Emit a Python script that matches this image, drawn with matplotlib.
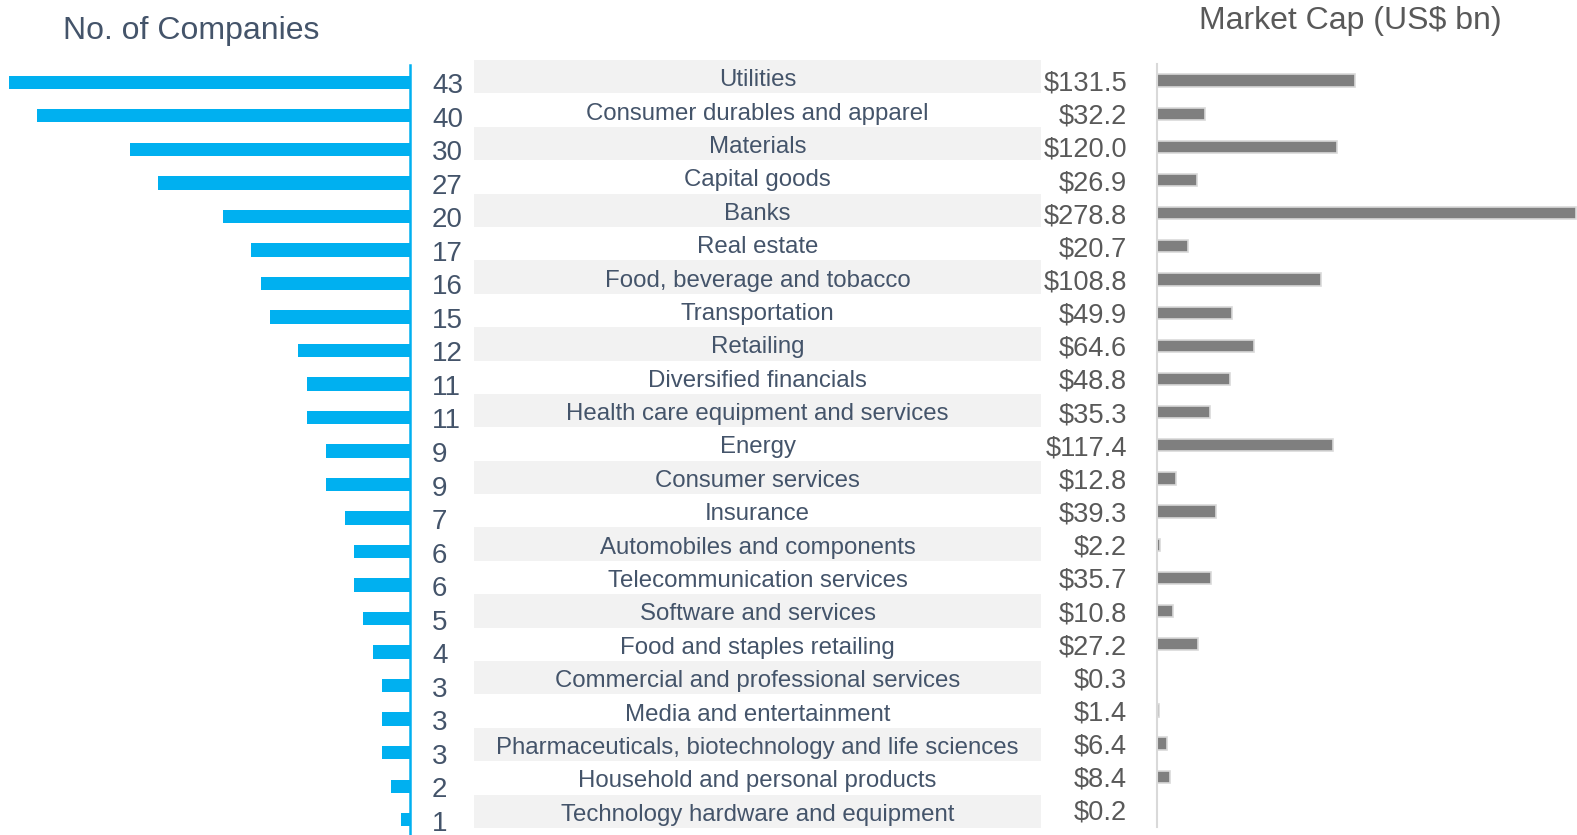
import matplotlib
matplotlib.use("Agg")
import matplotlib.pyplot as plt

plt.rcParams['font.family'] = ['Liberation Sans', 'DejaVu Sans']

# data
sectors = ["Utilities", "Consumer durables and apparel", "Materials", "Capital goods",
           "Banks", "Real estate", "Food, beverage and tobacco", "Transportation",
           "Retailing", "Diversified financials", "Health care equipment and services",
           "Energy", "Consumer services", "Insurance", "Automobiles and components",
           "Telecommunication services", "Software and services",
           "Food and staples retailing", "Commercial and professional services",
           "Media and entertainment",
           "Pharmaceuticals, biotechnology and life sciences",
           "Household and personal products", "Technology hardware and equipment"]
num_companies = [43, 40, 30, 27, 20, 17, 16, 15, 12, 11, 11, 9, 9, 7, 6, 6, 5, 4, 3, 3, 3, 2, 1]
market_cap = [131.5, 32.2, 120.0, 26.9, 278.8, 20.7, 108.8, 49.9, 64.6, 48.8, 35.3,
              117.4, 12.8, 39.3, 2.2, 35.7, 10.8, 27.2, 0.3, 1.4, 6.4, 8.4, 0.2]

W, H = 1577, 835
blue = "#00B0F0"
slate = "#44546A"
grey_txt = "#595959"

fig = plt.figure(figsize=(W / 100, H / 100), dpi=100)

def box(x0, y0, x1, y1):
    return [x0 / W, 1 - y1 / H, (x1 - x0) / W, (y1 - y0) / H]

n = len(sectors)
ypos = list(range(n))

# left: number of companies
axl = fig.add_axes(box(0, 65.5, 410, 836.5))
axl.barh(ypos, num_companies, height=0.4, color=blue)
axl.set_xlim(43.95, 0)
axl.set_ylim(n - 0.5, -0.5)
for s in ["top", "left", "bottom"]:
    axl.spines[s].set_visible(False)
axl.spines["right"].set_color(blue)
axl.spines["right"].set_linewidth(1.8)
axl.set_xticks([])
axl.set_yticks([])
for i, v in enumerate(num_companies):
    axl.annotate(str(v), (0, i), xytext=(22, -1), textcoords="offset pixels",
                 ha="left", va="center_baseline", fontsize=20, color=slate)

# middle: sector names on alternating bands
axm = fig.add_axes(box(474, 60, 1041, 828))
axm.set_xlim(0, 1)
axm.set_ylim(n - 0.5, -0.5)
axm.axis("off")
for i, name in enumerate(sectors):
    if i % 2 == 0:
        axm.axhspan(i - 0.5, i + 0.5, color="#F2F2F2", lw=0)
    axm.annotate(name, (0.5, i), xytext=(0, -1), textcoords="offset pixels",
                 ha="center", va="center_baseline", fontsize=17.3, color=slate)

# right: market cap
axr = fig.add_axes(box(1157, 64, 1577, 826.5))
axr.barh(ypos, market_cap, height=0.37, color="#7F7F7F", edgecolor="#D9D9D9", linewidth=1.2)
axr.set_xlim(0, 279.4)
axr.set_ylim(n - 0.5, -0.5)
for s in ["top", "right", "bottom"]:
    axr.spines[s].set_visible(False)
axr.spines["left"].set_color("#D9D9D9")
axr.spines["left"].set_linewidth(1.5)
axr.set_xticks([])
axr.set_yticks([])
for i, v in enumerate(market_cap):
    axr.text(-30 / 420, i, f"${v:.1f}", transform=axr.get_yaxis_transform(),
             ha="right", va="center_baseline", fontsize=19.6, color=grey_txt)

fig.text(63 / W, 1 - 31 / H, "No. of Companies", ha="left", va="center",
         fontsize=23, color=slate)
fig.text(1199 / W, 1 - 21 / H, "Market Cap (US$ bn)", ha="left", va="center",
         fontsize=23, color=grey_txt)

fig.savefig("out.png", dpi=100)
